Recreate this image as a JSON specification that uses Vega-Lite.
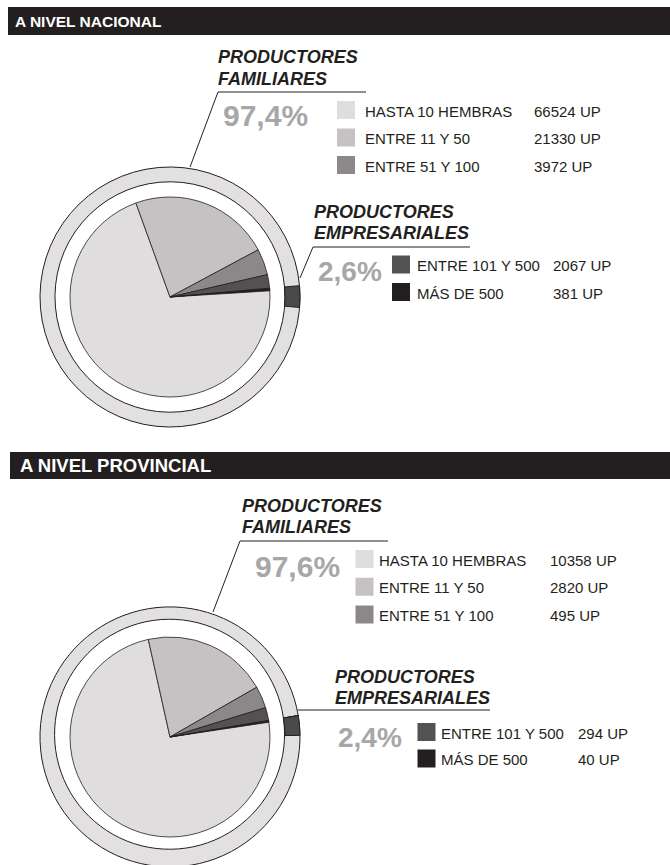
{
  "$schema": "https://vega.github.io/schema/vega-lite/v6.json",
  "width": 670,
  "height": 865,
  "autosize": {"type": "fit", "contains": "padding"},
  "padding": 0,
  "background": "#ffffff",
  "config": {
    "view": {"stroke": null},
    "axis": {"disable": true},
    "legend": {"disable": true},
    "text": {"font": "Liberation Sans"}
  },
  "datasets": {
    "nacional": [
      {"categoria": "HASTA 10 HEMBRAS", "grupo": "Productores familiares", "orden": 1, "up": 66524},
      {"categoria": "ENTRE 11 Y 50", "grupo": "Productores familiares", "orden": 2, "up": 21330},
      {"categoria": "ENTRE 51 Y 100", "grupo": "Productores familiares", "orden": 3, "up": 3972},
      {"categoria": "ENTRE 101 Y 500", "grupo": "Productores empresariales", "orden": 4, "up": 2067},
      {"categoria": "MÁS DE 500", "grupo": "Productores empresariales", "orden": 5, "up": 381}
    ],
    "provincial": [
      {"categoria": "HASTA 10 HEMBRAS", "grupo": "Productores familiares", "orden": 1, "up": 10358},
      {"categoria": "ENTRE 11 Y 50", "grupo": "Productores familiares", "orden": 2, "up": 2820},
      {"categoria": "ENTRE 51 Y 100", "grupo": "Productores familiares", "orden": 3, "up": 495},
      {"categoria": "ENTRE 101 Y 500", "grupo": "Productores empresariales", "orden": 4, "up": 294},
      {"categoria": "MÁS DE 500", "grupo": "Productores empresariales", "orden": 5, "up": 40}
    ]
  },
  "resolve": {"scale": {"y": "independent", "theta": "independent"}},
  "layer": [
    {
      "resolve": {"scale": {"theta": "independent"}},
      "layer": [
        {
          "data": {"values": [{}]},
          "mark": {"type": "rect", "fill": "#231f20"},
          "encoding": {
            "x": {"datum": 8, "scale": {"domain": [0, 670], "nice": false, "zero": false}, "axis": null},
            "x2": {"datum": 670},
            "y": {"datum": 7, "scale": {"domain": [0, 865], "reverse": true, "nice": false, "zero": false}, "axis": null},
            "y2": {"datum": 35}
          }
        },
        {
          "data": {"values": [{"titulo": "A NIVEL NACIONAL"}]},
          "mark": {"type": "text", "align": "left", "baseline": "alphabetic", "fontSize": 15.5, "fontWeight": "bold", "fill": "#ffffff"},
          "encoding": {"x": {"datum": 15}, "y": {"datum": 27}, "text": {"field": "titulo"}}
        },
        {
          "data": {"name": "nacional"},
          "transform": [{"stack": "up", "groupby": [], "sort": [{"field": "orden", "order": "ascending"}], "as": ["inicio", "fin"]}],
          "mark": {"type": "arc", "outerRadius": 100, "stroke": "#231f20", "strokeWidth": 0.8},
          "encoding": {
            "x": {"datum": 170, "stack": null},
            "y": {"datum": 297, "stack": null},
            "theta": {"field": "inicio", "type": "quantitative", "scale": {"range": [1.4835, 7.7667]}},
            "theta2": {"field": "fin"},
            "color": {
              "field": "categoria", "type": "nominal", "legend": null,
              "scale": {
                "domain": ["HASTA 10 HEMBRAS", "ENTRE 11 Y 50", "ENTRE 51 Y 100", "ENTRE 101 Y 500", "MÁS DE 500"],
                "range": ["#dfdddd", "#c6c2c3", "#8c8889", "#545152", "#231f20"]
              }
            }
          }
        },
        {
          "data": {"name": "nacional"},
          "transform": [
            {"aggregate": [{"op": "sum", "field": "up", "as": "up"}, {"op": "min", "field": "orden", "as": "orden"}], "groupby": ["grupo"]},
            {"stack": "up", "groupby": [], "sort": [{"field": "orden", "order": "ascending"}], "as": ["inicio", "fin"]}
          ],
          "mark": {"type": "arc", "innerRadius": 115, "outerRadius": 130, "stroke": "#231f20", "strokeWidth": 1},
          "encoding": {
            "x": {"datum": 170, "stack": null},
            "y": {"datum": 297, "stack": null},
            "theta": {"field": "inicio", "type": "quantitative", "scale": {"range": [1.4835, 7.7667]}},
            "theta2": {"field": "fin"},
            "fill": {"field": "grupo", "type": "nominal", "legend": null,
              "scale": {"domain": ["Productores familiares", "Productores empresariales"], "range": ["#e2e0e1", "#4b494a"]}}
          }
        },
        {
          "data": {"values": [{}]},
          "mark": {"type": "rule", "stroke": "#231f20", "strokeWidth": 1},
          "encoding": {"x": {"datum": 190}, "y": {"datum": 167}, "x2": {"datum": 218}, "y2": {"datum": 92}}
        },
        {
          "data": {"values": [{}]},
          "mark": {"type": "rule", "stroke": "#231f20", "strokeWidth": 1},
          "encoding": {"x": {"datum": 218}, "y": {"datum": 92}, "x2": {"datum": 366}, "y2": {"datum": 92}}
        },
        {
          "data": {"values": [{}]},
          "mark": {"type": "rule", "stroke": "#231f20", "strokeWidth": 1},
          "encoding": {"x": {"datum": 300}, "y": {"datum": 278}, "x2": {"datum": 313}, "y2": {"datum": 247}}
        },
        {
          "data": {"values": [{}]},
          "mark": {"type": "rule", "stroke": "#231f20", "strokeWidth": 1},
          "encoding": {"x": {"datum": 313}, "y": {"datum": 247}, "x2": {"datum": 470}, "y2": {"datum": 247}}
        },
        {
          "data": {"values": [{}]},
          "mark": {"type": "text", "align": "left", "baseline": "alphabetic", "fontSize": 18, "fontWeight": "bold", "fontStyle": "italic", "fill": "#231f20", "lineHeight": 22, "text": ["PRODUCTORES", "FAMILIARES"]},
          "encoding": {"x": {"datum": 218}, "y": {"datum": 63}}
        },
        {
          "data": {"values": [{}]},
          "mark": {"type": "text", "align": "left", "baseline": "alphabetic", "fontSize": 18, "fontWeight": "bold", "fontStyle": "italic", "fill": "#231f20", "lineHeight": 21, "text": ["PRODUCTORES", "EMPRESARIALES"]},
          "encoding": {"x": {"datum": 314}, "y": {"datum": 218}}
        },
        {
          "data": {"values": [{}]},
          "mark": {"type": "text", "align": "left", "baseline": "alphabetic", "fontSize": 30, "fontWeight": "bold", "fill": "#a8a6a7", "text": "97,4%"},
          "encoding": {"x": {"datum": 223}, "y": {"datum": 126}}
        },
        {
          "data": {"values": [{}]},
          "mark": {"type": "text", "align": "left", "baseline": "alphabetic", "fontSize": 28, "fontWeight": "bold", "fill": "#a8a6a7", "text": "2,6%"},
          "encoding": {"x": {"datum": 318}, "y": {"datum": 281}}
        },
        {
          "data": {"values": [{}]},
          "mark": {"type": "rect", "fill": "#231f20"},
          "encoding": {"x": {"datum": 10}, "x2": {"datum": 670}, "y": {"datum": 452}, "y2": {"datum": 479}}
        },
        {
          "data": {"values": [{"titulo": "A NIVEL PROVINCIAL"}]},
          "mark": {"type": "text", "align": "left", "baseline": "alphabetic", "fontSize": 18.5, "fontWeight": "bold", "fill": "#ffffff"},
          "encoding": {"x": {"datum": 20}, "y": {"datum": 472}, "text": {"field": "titulo"}}
        },
        {
          "data": {"name": "provincial"},
          "transform": [{"stack": "up", "groupby": [], "sort": [{"field": "orden", "order": "ascending"}], "as": ["inicio", "fin"]}],
          "mark": {"type": "arc", "outerRadius": 100, "stroke": "#231f20", "strokeWidth": 0.8, "clip": true},
          "encoding": {
            "x": {"datum": 170, "stack": null},
            "y": {"datum": 737, "stack": null},
            "theta": {"field": "inicio", "type": "quantitative", "scale": {"range": [1.405, 7.688]}},
            "theta2": {"field": "fin"},
            "color": {"field": "categoria", "type": "nominal", "legend": null}
          }
        },
        {
          "data": {"name": "provincial"},
          "transform": [
            {"aggregate": [{"op": "sum", "field": "up", "as": "up"}, {"op": "min", "field": "orden", "as": "orden"}], "groupby": ["grupo"]},
            {"stack": "up", "groupby": [], "sort": [{"field": "orden", "order": "ascending"}], "as": ["inicio", "fin"]}
          ],
          "mark": {"type": "arc", "innerRadius": 115, "outerRadius": 130, "stroke": "#231f20", "strokeWidth": 1, "clip": true},
          "encoding": {
            "x": {"datum": 170, "stack": null},
            "y": {"datum": 737, "stack": null},
            "theta": {"field": "inicio", "type": "quantitative", "scale": {"range": [1.405, 7.688]}},
            "theta2": {"field": "fin"},
            "fill": {"field": "grupo", "type": "nominal", "legend": null}
          }
        },
        {
          "data": {"values": [{}]},
          "mark": {"type": "rule", "stroke": "#231f20", "strokeWidth": 1},
          "encoding": {"x": {"datum": 213}, "y": {"datum": 612}, "x2": {"datum": 240}, "y2": {"datum": 541}}
        },
        {
          "data": {"values": [{}]},
          "mark": {"type": "rule", "stroke": "#231f20", "strokeWidth": 1},
          "encoding": {"x": {"datum": 240}, "y": {"datum": 541}, "x2": {"datum": 388}, "y2": {"datum": 541}}
        },
        {
          "data": {"values": [{}]},
          "mark": {"type": "rule", "stroke": "#231f20", "strokeWidth": 1},
          "encoding": {"x": {"datum": 298}, "y": {"datum": 710}, "x2": {"datum": 490}, "y2": {"datum": 710}}
        },
        {
          "data": {"values": [{}]},
          "mark": {"type": "text", "align": "left", "baseline": "alphabetic", "fontSize": 18, "fontWeight": "bold", "fontStyle": "italic", "fill": "#231f20", "lineHeight": 21, "text": ["PRODUCTORES", "FAMILIARES"]},
          "encoding": {"x": {"datum": 242}, "y": {"datum": 512}}
        },
        {
          "data": {"values": [{}]},
          "mark": {"type": "text", "align": "left", "baseline": "alphabetic", "fontSize": 18, "fontWeight": "bold", "fontStyle": "italic", "fill": "#231f20", "lineHeight": 21, "text": ["PRODUCTORES", "EMPRESARIALES"]},
          "encoding": {"x": {"datum": 335}, "y": {"datum": 683}}
        },
        {
          "data": {"values": [{}]},
          "mark": {"type": "text", "align": "left", "baseline": "alphabetic", "fontSize": 30, "fontWeight": "bold", "fill": "#a8a6a7", "text": "97,6%"},
          "encoding": {"x": {"datum": 255}, "y": {"datum": 577}}
        },
        {
          "data": {"values": [{}]},
          "mark": {"type": "text", "align": "left", "baseline": "alphabetic", "fontSize": 28, "fontWeight": "bold", "fill": "#a8a6a7", "text": "2,4%"},
          "encoding": {"x": {"datum": 338}, "y": {"datum": 747}}
        }
      ]
    },
    {
      "data": {"name": "nacional"},
      "transform": [{"filter": {"field": "grupo", "equal": "Productores familiares"}}],
      "encoding": {"y": {"field": "categoria", "type": "nominal", "axis": null,
        "scale": {"type": "point", "domain": ["HASTA 10 HEMBRAS", "ENTRE 11 Y 50", "ENTRE 51 Y 100"], "range": [110, 165], "padding": 0}}},
      "layer": [
        {"mark": {"type": "square", "size": 324, "filled": true, "opacity": 1}, "encoding": {"x": {"datum": 346}, "color": {"field": "categoria", "type": "nominal", "legend": null}}},
        {"mark": {"type": "text", "align": "left", "baseline": "alphabetic", "dy": 6.5, "fontSize": 15, "fill": "#231f20"}, "encoding": {"x": {"datum": 365}, "text": {"field": "categoria"}}},
        {"mark": {"type": "text", "align": "left", "baseline": "alphabetic", "dy": 6.5, "fontSize": 15, "fill": "#231f20", "text": {"expr": "datum.up + ' UP'"}}, "encoding": {"x": {"datum": 534}}}
      ]
    },
    {
      "data": {"name": "nacional"},
      "transform": [{"filter": {"field": "grupo", "equal": "Productores empresariales"}}],
      "encoding": {"y": {"field": "categoria", "type": "nominal", "axis": null,
        "scale": {"type": "point", "domain": ["ENTRE 101 Y 500", "MÁS DE 500"], "range": [264.5, 292], "padding": 0}}},
      "layer": [
        {"mark": {"type": "square", "size": 324, "filled": true, "opacity": 1}, "encoding": {"x": {"datum": 401}, "color": {"field": "categoria", "type": "nominal", "legend": null}}},
        {"mark": {"type": "text", "align": "left", "baseline": "alphabetic", "dy": 6.5, "fontSize": 15, "fill": "#231f20"}, "encoding": {"x": {"datum": 417}, "text": {"field": "categoria"}}},
        {"mark": {"type": "text", "align": "left", "baseline": "alphabetic", "dy": 6.5, "fontSize": 15, "fill": "#231f20", "text": {"expr": "datum.up + ' UP'"}}, "encoding": {"x": {"datum": 553}}}
      ]
    },
    {
      "data": {"name": "provincial"},
      "transform": [{"filter": {"field": "grupo", "equal": "Productores familiares"}}],
      "encoding": {"y": {"field": "categoria", "type": "nominal", "axis": null,
        "scale": {"type": "point", "domain": ["HASTA 10 HEMBRAS", "ENTRE 11 Y 50", "ENTRE 51 Y 100"], "range": [559, 614.5], "padding": 0}}},
      "layer": [
        {"mark": {"type": "square", "size": 324, "filled": true, "opacity": 1}, "encoding": {"x": {"datum": 364.5}, "color": {"field": "categoria", "type": "nominal", "legend": null}}},
        {"mark": {"type": "text", "align": "left", "baseline": "alphabetic", "dy": 6.5, "fontSize": 15, "fill": "#231f20"}, "encoding": {"x": {"datum": 379}, "text": {"field": "categoria"}}},
        {"mark": {"type": "text", "align": "left", "baseline": "alphabetic", "dy": 6.5, "fontSize": 15, "fill": "#231f20", "text": {"expr": "datum.up + ' UP'"}}, "encoding": {"x": {"datum": 550}}}
      ]
    },
    {
      "data": {"name": "provincial"},
      "transform": [{"filter": {"field": "grupo", "equal": "Productores empresariales"}}],
      "encoding": {"y": {"field": "categoria", "type": "nominal", "axis": null,
        "scale": {"type": "point", "domain": ["ENTRE 101 Y 500", "MÁS DE 500"], "range": [732, 758.5], "padding": 0}}},
      "layer": [
        {"mark": {"type": "square", "size": 324, "filled": true, "opacity": 1}, "encoding": {"x": {"datum": 426.5}, "color": {"field": "categoria", "type": "nominal", "legend": null}}},
        {"mark": {"type": "text", "align": "left", "baseline": "alphabetic", "dy": 6.5, "fontSize": 15, "fill": "#231f20"}, "encoding": {"x": {"datum": 441}, "text": {"field": "categoria"}}},
        {"mark": {"type": "text", "align": "left", "baseline": "alphabetic", "dy": 6.5, "fontSize": 15, "fill": "#231f20", "text": {"expr": "datum.up + ' UP'"}}, "encoding": {"x": {"datum": 578}}}
      ]
    }
  ]
}
